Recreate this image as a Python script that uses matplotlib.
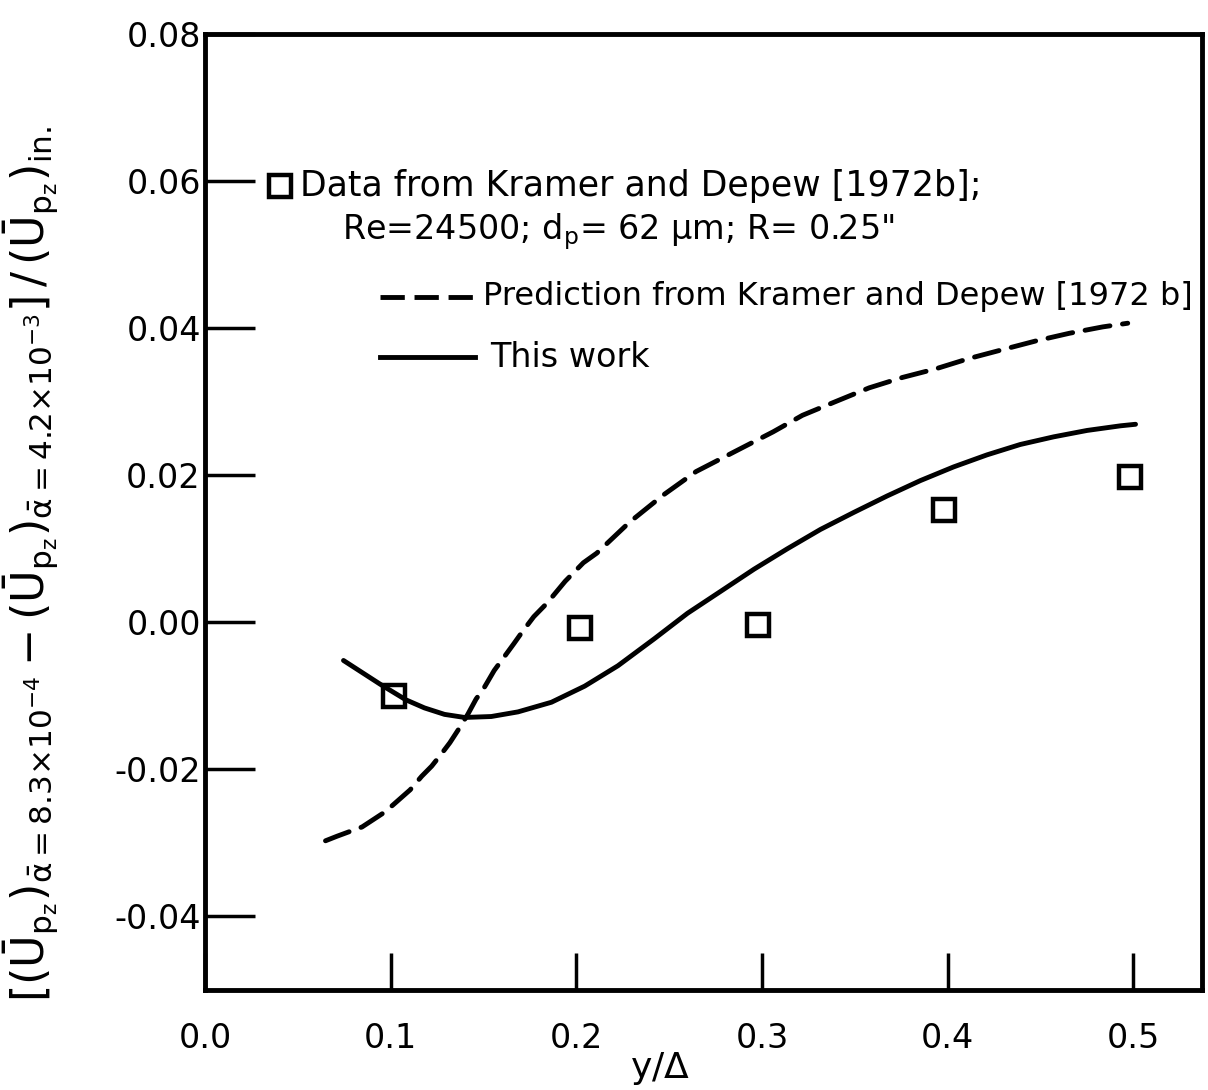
import matplotlib
matplotlib.use("Agg")
import matplotlib.pyplot as plt
import numpy as np

plt.rcParams['font.family'] = ['DejaVu Sans']
plt.rcParams['mathtext.fontset'] = 'dejavusans'
plt.rcParams['mathtext.default'] = 'regular'

# Measured data (Kramer and Depew 1972b)
data_x = [0.102, 0.202, 0.298, 0.398, 0.498]
data_y = [-0.0100, -0.0008, -0.0004, 0.0153, 0.0198]

# Prediction from Kramer and Depew
pred_x = [0.0649, 0.0711, 0.0846, 0.0971, 0.1043, 0.1105, 0.1167, 0.1221, 0.1274, 0.1319,
          0.1372, 0.1416, 0.1460, 0.1505, 0.1558, 0.1611, 0.1664, 0.1709, 0.1771, 0.1842,
          0.1940, 0.2038, 0.2110, 0.2286, 0.2468, 0.2645, 0.2860, 0.3060, 0.3218,
          0.3398, 0.3577, 0.3757, 0.3936, 0.4116, 0.4296, 0.4475, 0.4655, 0.4835, 0.4970]
pred_y = [-0.02971, -0.02909, -0.02783, -0.02576, -0.02416, -0.02278, -0.02094, -0.01956, -0.01787, -0.01637,
          -0.01431, -0.01249, -0.01044, -0.00883, -0.00654, -0.00472, -0.00289, -0.00129, 0.00077, 0.00260,
          0.00558, 0.00810, 0.00940, 0.01360, 0.01730, 0.02050, 0.02330, 0.02590, 0.02815,
          0.03003, 0.03188, 0.03330, 0.03447, 0.03588, 0.03708, 0.03826, 0.03930, 0.04017, 0.04067]

# This work
model_x = [0.0746, 0.0945, 0.1082, 0.1182, 0.1290, 0.1398, 0.1542, 0.1686, 0.1866, 0.2045,
           0.2224, 0.2421, 0.2599, 0.2778, 0.2957, 0.3136, 0.3315, 0.3495, 0.3674, 0.3853,
           0.4032, 0.4212, 0.4391, 0.4571, 0.4751, 0.4931, 0.5012]
model_y = [-0.00519, -0.00844, -0.01054, -0.01164, -0.01252, -0.01294, -0.01281, -0.01218, -0.01087, -0.00868,
           -0.00591, -0.00222, 0.00123, 0.00422, 0.00722, 0.00999, 0.01263, 0.01495, 0.01718, 0.01927,
           0.02113, 0.02277, 0.02418, 0.02522, 0.02609, 0.02672, 0.02693]

xticks = [0.0, 0.1, 0.2, 0.3, 0.4, 0.5]
xtick_labels = ['0.0', '0.1', '0.2', '0.3', '0.4', '0.5']
yticks = [-0.04, -0.02, 0.00, 0.02, 0.04, 0.06, 0.08]
ytick_labels = ['-0.04', '-0.02', '0.00', '0.02', '0.04', '0.06', '0.08']

fig = plt.figure(figsize=(12.08, 10.90), dpi=100)
ax = fig.add_axes([205/1208, 1 - 990/1090, 997/1208, 956/1090])

ax.plot(pred_x, pred_y, color='black', lw=3.5, ls=(0, (5.2, 2.6)), dash_capstyle='round')
ax.plot(model_x, model_y, color='black', lw=3.5, solid_capstyle='round')
ax.plot(data_x, data_y, ls='none', marker='s', ms=16, mfc='none', mec='black', mew=3.2)

ax.set_xlim(0, 0.537)
ax.set_ylim(-0.05, 0.08)
ax.set_xticks(xticks)
ax.set_xticklabels(xtick_labels)
ax.set_yticks(yticks)
ax.set_yticklabels(ytick_labels)
ax.tick_params(axis='x', direction='in', length=27, width=2.5, pad=23, labelsize=24)
ax.tick_params(axis='y', direction='in', length=36, width=2.5, pad=3, labelsize=24)
for s in ax.spines.values():
    s.set_linewidth(3.5)

ax.set_xlabel(r'y/$\Delta$', fontsize=26)
ax.xaxis.set_label_coords(0.456, -0.063)
ax.set_ylabel(r'$[(\bar{U}_{p_z})_{\bar{\alpha}=8.3{\times}10^{-4}}-(\bar{U}_{p_z})_{\bar{\alpha}=4.2{\times}10^{-3}}]\,/\,(\bar{U}_{p_z})_{in.}$',
              fontsize=32)
ax.yaxis.set_label_coords(-0.145, 0.446)

# legend drawn by hand
tr = ax.transAxes
ax.plot([0.0757], [0.841], transform=tr, ls='none', marker='s', ms=16, mfc='none', mec='black', mew=3.2)
ax.text(0.095, 0.841, 'Data from Kramer and Depew [1972b];', transform=tr, fontsize=25, va='center')
ax.text(0.137, 0.793, 'Re=24500; $d_p$= 62 $\\mu$m; R= 0.25"', transform=tr, fontsize=24, va='center')
ax.plot([0.1755, 0.271], [0.725, 0.725], transform=tr, color='black', lw=3.5, ls=(0, (5, 2)))
ax.text(0.279, 0.725, 'Prediction from Kramer and Depew [1972 b]', transform=tr, fontsize=23, va='center')
ax.plot([0.1755, 0.271], [0.662, 0.662], transform=tr, color='black', lw=3.5)
ax.text(0.286, 0.662, 'This work', transform=tr, fontsize=24, va='center')

fig.savefig('out.png', dpi=100)
